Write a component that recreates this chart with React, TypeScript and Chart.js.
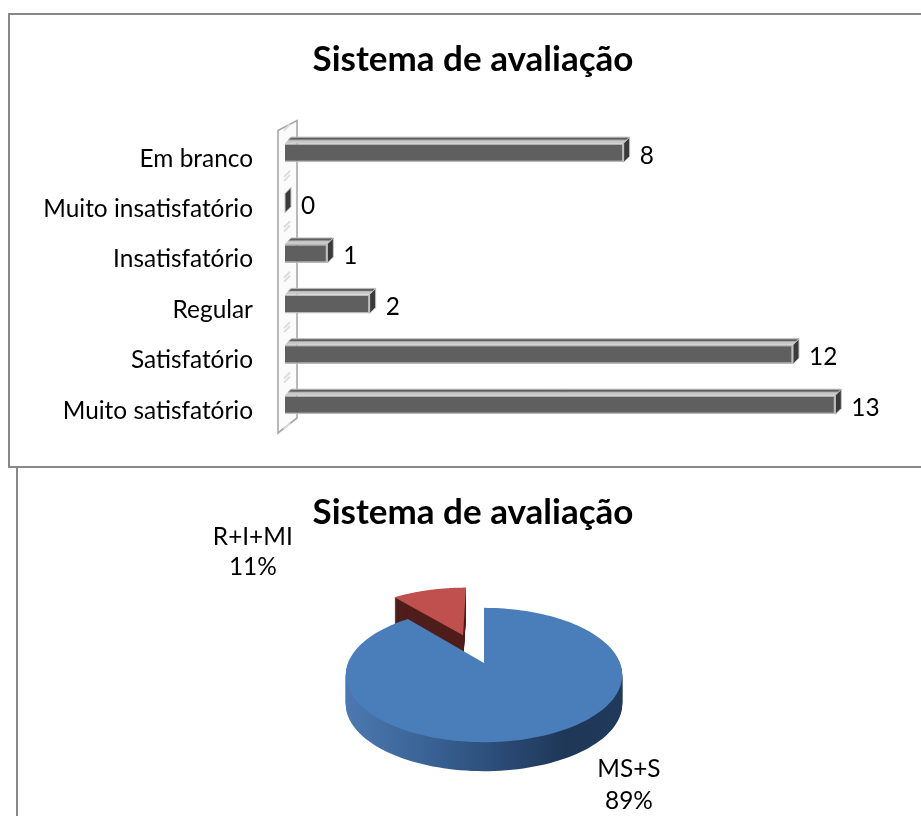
import React, { useEffect, useRef } from "react";
import { Chart, registerables } from "chart.js";

Chart.register(...registerables);

const chartTitle = "Sistema de avaliação";
const barCategories = ["Em branco", "Muito insatisfatório", "Insatisfatório", "Regular", "Satisfatório", "Muito satisfatório"];
const barValues = [8, 0, 1, 2, 12, 13];
const pieCategories = ["MS+S", "R+I+MI"];
const piePercents = [89, 11];

const FONT = "Lato, Carlito, sans-serif";
const LABEL_SIZE = 24.4;
const TITLE_SIZE = 35;

const DX = 6;
const DY = -6;

const barDepthPlugin = {
  id: "barDepth",
  beforeDatasetsDraw(chart: any) {
    const { ctx, chartArea: a, scales } = chart;
    const x0 = a.left - 7;
    const x1 = a.left + 12;
    const yT0 = a.top + 3;
    const yT1 = a.top - 7;
    const yB0 = a.bottom + 3;
    const yB1 = a.bottom - 12;
    ctx.save();
    ctx.beginPath();
    ctx.moveTo(x0, yT0);
    ctx.lineTo(x1, yT1);
    ctx.lineTo(x1, yB1);
    ctx.lineTo(x0, yB0);
    ctx.closePath();
    ctx.fillStyle = "#fbfbfb";
    ctx.fill();
    ctx.strokeStyle = "#a8a8a8";
    ctx.lineWidth = 1.6;
    ctx.stroke();
    ctx.strokeStyle = "#dcdcdc";
    ctx.lineWidth = 2;
    const step = scales.y.height / barCategories.length;
    barCategories.forEach((_, i) => {
      const yc = scales.y.getPixelForValue(i);
      [-0.5, 0.42].forEach((f) => {
        const y = yc + f * step;
        ctx.beginPath();
        ctx.moveTo(a.left - 1, y + 3);
        ctx.lineTo(a.left + 5, y - 3);
        ctx.stroke();
      });
    });
    ctx.restore();
  },
  afterDatasetsDraw(chart: any) {
    const { ctx } = chart;
    const bars = chart.getDatasetMeta(0).data;
    ctx.save();
    bars.forEach((bar: any, i: number) => {
      const top = bar.y - bar.height / 2;
      const bottom = bar.y + bar.height / 2;
      if (bar.x > bar.base) {
        ctx.beginPath();
        ctx.moveTo(bar.base, top);
        ctx.lineTo(bar.base + DX, top + DY);
        ctx.lineTo(bar.x + DX, top + DY);
        ctx.lineTo(bar.x, top);
        ctx.closePath();
        ctx.fillStyle = "#c9c9c9";
        ctx.fill();
        ctx.beginPath();
        ctx.moveTo(bar.base + DX / 2, top + DY / 2);
        ctx.lineTo(bar.base + DX, top + DY);
        ctx.lineTo(bar.x + DX, top + DY);
        ctx.lineTo(bar.x + DX / 2, top + DY / 2);
        ctx.closePath();
        ctx.fillStyle = "#5e5e5e";
        ctx.fill();
        ctx.strokeStyle = "#bdbdbd";
        ctx.lineWidth = 1;
        ctx.stroke();
      }
      ctx.beginPath();
      ctx.moveTo(bar.x, top);
      ctx.lineTo(bar.x + DX, top + DY);
      ctx.lineTo(bar.x + DX, bottom + DY);
      ctx.lineTo(bar.x, bottom);
      ctx.closePath();
      ctx.fillStyle = "#3a3a3a";
      ctx.fill();
      ctx.strokeStyle = "#c4c4c4";
      ctx.lineWidth = 1;
      ctx.stroke();

      ctx.fillStyle = "#000";
      ctx.font = `${LABEL_SIZE}px ${FONT}`;
      ctx.textAlign = "left";
      ctx.textBaseline = "middle";
      ctx.fillText(String(barValues[i]), bar.x + 16, bar.y + 3);
    });
    ctx.restore();
  },
};

// perspective constants of the tilted disc
const TILT = 0.179;
const SQUASH = 0.478;
const EXTRUDE = 29;
const PIE_SHIFT = 22;

const pie3dPlugin = {
  id: "pie3d",
  afterLayout(chart: any) {
    chart.chartArea.left += PIE_SHIFT;
    chart.chartArea.width -= PIE_SHIFT;
    chart.chartArea.w = chart.chartArea.right - chart.chartArea.left;
  },
  beforeDatasetDraw(chart: any) {
    const { ctx } = chart;
    const arcs = chart.getDatasetMeta(0).data;
    const project = (arc: any, u: number, v: number) => {
      const w = 1 - TILT * v;
      return [arc.x + (arc.outerRadius * u) / w, arc.y + (SQUASH * arc.outerRadius * v) / w];
    };
    const trace = (arc: any, shift: number) => {
      const mid = (arc.startAngle + arc.endAngle) / 2;
      const d = (arc.options.offset || 0) / arc.outerRadius;
      const ox = Math.cos(mid) * d;
      const oy = Math.sin(mid) * d;
      ctx.beginPath();
      const p0 = project(arc, ox, oy);
      ctx.moveTo(p0[0], p0[1] + shift);
      const n = 160;
      for (let i = 0; i <= n; i++) {
        const t = arc.startAngle + ((arc.endAngle - arc.startAngle) * i) / n;
        const p = project(arc, ox + Math.cos(t), oy + Math.sin(t));
        ctx.lineTo(p[0], p[1] + shift);
      }
      ctx.closePath();
    };
    const order = [1, 0];
    ctx.save();
    order.forEach((idx) => {
      const arc = arcs[idx];
      let sideFill: any = "#4f1e1b";
      if (idx === 0) {
        const g = ctx.createLinearGradient(arc.x - arc.outerRadius, 0, arc.x + arc.outerRadius, 0);
        g.addColorStop(0, "#4a78b0");
        g.addColorStop(0.25, "#3c6699");
        g.addColorStop(0.55, "#2b4c78");
        g.addColorStop(0.8, "#1f3757");
        g.addColorStop(1, "#203a5c");
        sideFill = g;
      }
      for (let s = EXTRUDE; s >= 1; s--) {
        trace(arc, s);
        ctx.fillStyle = sideFill;
        ctx.fill();
      }
      trace(arc, 0);
      ctx.fillStyle = arc.options.backgroundColor;
      ctx.fill();
    });

    const first = arcs[0];
    const R = first.outerRadius;
    const labelAnchors = [
      [1.066, 0.78, 32],
      [-1.70, -0.927, 30],
    ];
    ctx.fillStyle = "#000";
    ctx.font = `${LABEL_SIZE}px ${FONT}`;
    ctx.textAlign = "center";
    ctx.textBaseline = "middle";
    pieCategories.forEach((name, i) => {
      const lx = first.x + labelAnchors[i][0] * R;
      const ly = first.y + labelAnchors[i][1] * R;
      ctx.fillText(name, lx, ly);
      ctx.fillText(`${piePercents[i]}%`, lx, ly + labelAnchors[i][2]);
    });
    ctx.restore();
    return false;
  },
};

export default function App() {
  const barRef = useRef<HTMLCanvasElement>(null);
  const pieRef = useRef<HTMLCanvasElement>(null);

  useEffect(() => {
    const barChart = new Chart(barRef.current!, {
      type: "bar",
      data: {
        labels: barCategories,
        datasets: [
          {
            data: barValues,
            backgroundColor: "#5f5f5f",
            borderColor: "#b9b9b9",
            borderWidth: 1.5,
            categoryPercentage: 1,
            barPercentage: 0.38,
          },
        ],
      },
      options: {
        indexAxis: "y",
        animation: false,
        responsive: false,
        devicePixelRatio: 1,
        layout: { padding: { top: 0, right: 0, bottom: 36, left: 0 } },
        plugins: {
          legend: { display: false },
          tooltip: { enabled: false },
          title: {
            display: true,
            text: chartTitle,
            color: "#000",
            font: { family: FONT, size: TITLE_SIZE, weight: "bold" },
            padding: { top: 39, bottom: 46.5 },
          },
        },
        scales: {
          x: { display: false, min: 0, max: 15 },
          y: {
            afterFit: (scale: any) => {
              scale.width = 259;
            },
            grid: { drawOnChartArea: false, drawTicks: true, tickLength: 32, tickColor: "transparent" },
            border: { display: false },
            ticks: {
              color: "#000",
              font: { family: FONT, size: LABEL_SIZE },
              padding: 0,
              labelOffset: 6,
              autoSkip: false,
            },
          },
        },
      },
      plugins: [barDepthPlugin],
    } as any);

    const pieChart = new Chart(pieRef.current!, {
      type: "pie",
      data: {
        labels: pieCategories,
        datasets: [
          {
            data: piePercents,
            backgroundColor: ["#4a7ebb", "#bf504d"],
            borderWidth: 0,
            offset: [0, 67],
            radius: 136,
          },
        ],
      },
      options: {
        animation: false,
        responsive: false,
        devicePixelRatio: 1,
        layout: { padding: { top: 0, right: 0, bottom: 30, left: 0 } },
        plugins: {
          legend: { display: false },
          tooltip: { enabled: false },
          title: {
            display: true,
            text: chartTitle,
            color: "#000",
            font: { family: FONT, size: TITLE_SIZE, weight: "bold" },
            padding: { top: 24, bottom: 6 },
          },
        },
      },
      plugins: [pie3dPlugin],
    } as any);

    return () => {
      barChart.destroy();
      pieChart.destroy();
    };
  }, []);

  const root: React.CSSProperties = { position: "absolute", left: 0, top: 0, width: 921, height: 816, background: "#fff", overflow: "hidden" };
  const line = (l: number, t: number, w: number, h: number): React.CSSProperties => ({ position: "absolute", left: l, top: t, width: w, height: h, background: "#888" });
  return (
    <div style={root}>
      <div style={line(8, 13, 913, 2)} />
      <div style={line(8, 13, 2, 455)} />
      <div style={line(8, 466, 913, 2)} />
      <div style={line(16, 467, 2, 349)} />
      <canvas ref={barRef} width={894} height={466} style={{ position: "absolute", left: 26, top: 0 }} />
      <canvas ref={pieRef} width={896} height={348} style={{ position: "absolute", left: 25, top: 468 }} />
    </div>
  );
}
